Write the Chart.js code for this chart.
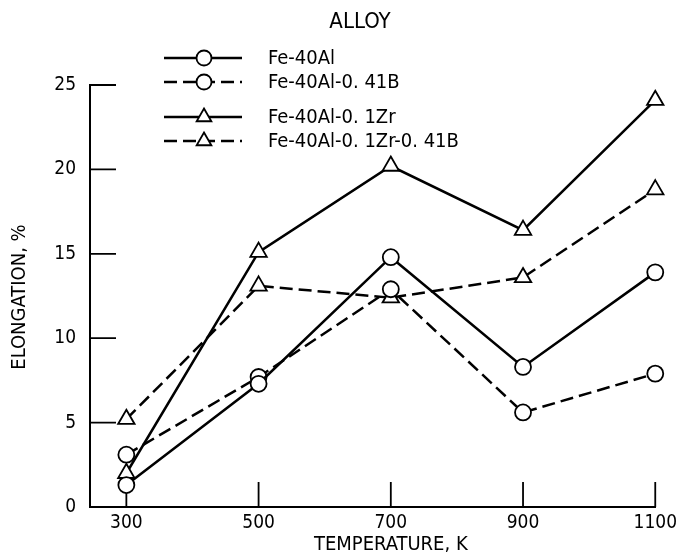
<!DOCTYPE html>
<html>
<head>
<meta charset="utf-8">
<script src="https://cdn.jsdelivr.net/npm/chart.js@4"></script>
<style>
  html, body { margin: 0; padding: 0; background: #fff; }
  #wrap { width: 682px; height: 559px; }
</style>
</head>
<body>
<div id="wrap"><canvas id="chart" width="682" height="559"></canvas></div>
<script>
const temps = [300, 500, 700, 900, 1100];
const xTicks = [300, 500, 700, 900, 1100];
const yTicks = [0, 5, 10, 15, 20, 25];

const fe40al = [1.3, 7.3, 14.8, 8.3, 13.9];
const fe40alB = [3.1, 7.7, 12.9, 5.6, 7.9];
const fe40alZr = [2.0, 15.1, 20.2, 16.4, 24.1];
const fe40alZrB = [5.2, 13.1, 12.4, 13.6, 18.8];

const seriesNames = ['Fe-40Al', 'Fe-40Al-0. 41B', 'Fe-40Al-0. 1Zr', 'Fe-40Al-0. 1Zr-0. 41B'];
const xTitle = 'TEMPERATURE, K';
const yTitle = 'ELONGATION, %';

const FONT = "'DejaVu Sans Condensed', 'DejaVu Sans', sans-serif";

function pts(vals) {
    return temps.map((t, i) => ({ x: t, y: vals[i] }));
}

function series(label, vals, shape, dashed) {
    return {
        label: label,
        data: pts(vals),
        borderColor: '#000',
        borderWidth: 2.5,
        borderDash: dashed ? [13, 6] : [],
        pointStyle: shape,
        pointRadius: shape === 'triangle' ? 9.5 : 8,
        pointBackgroundColor: '#fff',
        pointBorderColor: '#000',
        pointBorderWidth: 1.8,
        tension: 0,
        fill: false,
        clip: false
    };
}

// tick marks drawn inward from the axes
const inwardTicks = {
    id: 'inwardTicks',
    beforeDatasetsDraw(chart) {
        const { ctx, chartArea, scales } = chart;
        ctx.save();
        ctx.strokeStyle = '#000';
        ctx.lineWidth = 1.8;
        ctx.beginPath();
        xTicks.forEach(v => {
            const x = scales.x.getPixelForValue(v);
            ctx.moveTo(x, chartArea.bottom);
            ctx.lineTo(x, chartArea.bottom - 25);
        });
        yTicks.slice(1).forEach(v => {
            const y = scales.y.getPixelForValue(v);
            ctx.moveTo(chartArea.left, y);
            ctx.lineTo(chartArea.left + 26, y);
        });
        ctx.stroke();
        ctx.restore();
    }
};

// axis titles and the legend above the plot
const alloyLegend = {
    id: 'alloyLegend',
    afterDraw(chart) {
        const { ctx, scales } = chart;
        const rows = [58, 82, 117, 141];
        ctx.save();
        ctx.fillStyle = '#000';
        ctx.textBaseline = 'middle';
        ctx.textAlign = 'center';

        ctx.font = '20px ' + FONT;
        ctx.fillText(xTitle, scales.x.getPixelForValue(700), 545);
        ctx.save();
        ctx.translate(20, 297);
        ctx.rotate(-Math.PI / 2);
        ctx.fillText(yTitle, 0, 0);
        ctx.restore();

        ctx.font = '22px ' + FONT;
        ctx.fillText('ALLOY', 360, 22);
        ctx.font = '20px ' + FONT;
        ctx.textAlign = 'left';
        chart.data.datasets.forEach((ds, i) => {
            const y = rows[i];
            ctx.save();
            ctx.strokeStyle = '#000';
            ctx.lineWidth = 2.5;
            ctx.setLineDash(ds.borderDash.length ? [13, 6] : []);
            ctx.beginPath();
            ctx.moveTo(164, y);
            ctx.lineTo(242, y);
            ctx.stroke();
            ctx.restore();
            ctx.save();
            ctx.lineWidth = 1.8;
            ctx.strokeStyle = '#000';
            ctx.fillStyle = '#fff';
            Chart.helpers.drawPoint(ctx, {
                pointStyle: ds.pointStyle,
                radius: ds.pointStyle === 'triangle' ? 8.5 : 7.5,
                borderWidth: 1.8,
                rotation: 0
            }, 204, y);
            ctx.restore();
            ctx.fillText(ds.label, 268, y + 1);
        });
        ctx.restore();
    }
};

new Chart(document.getElementById('chart'), {
    type: 'line',
    data: {
        datasets: [
            series(seriesNames[0], fe40al, 'circle', false),
            series(seriesNames[1], fe40alB, 'circle', true),
            series(seriesNames[2], fe40alZr, 'triangle', false),
            series(seriesNames[3], fe40alZrB, 'triangle', true)
        ]
    },
    options: {
        responsive: false,
        animation: false,
        layout: { padding: { top: 85, right: 22, left: 0, bottom: 0 } },
        plugins: {
            legend: { display: false },
            tooltip: { enabled: false }
        },
        scales: {
            x: {
                type: 'linear',
                min: 245,
                max: 1100,
                afterBuildTicks: s => { s.ticks = xTicks.map(v => ({ value: v })); },
                afterFit: s => { s.height = 52; },
                grid: { display: false, drawTicks: false },
                border: { display: true, color: '#000', width: 2 },
                ticks: {
                    color: '#000',
                    padding: 5,
                    maxRotation: 0,
                    callback: v => String(v),
                    font: { family: FONT, size: 19 }
                }
            },
            y: {
                min: 0,
                max: 25,
                afterBuildTicks: s => { s.ticks = yTicks.map(v => ({ value: v })); },
                afterFit: s => { s.width = 90; },
                grid: { display: false, drawTicks: false },
                border: { display: true, color: '#000', width: 2 },
                ticks: {
                    color: '#000',
                    padding: 14,
                    font: { family: FONT, size: 19 }
                }
            }
        }
    },
    plugins: [inwardTicks, alloyLegend]
});
</script>
</body>
</html>
